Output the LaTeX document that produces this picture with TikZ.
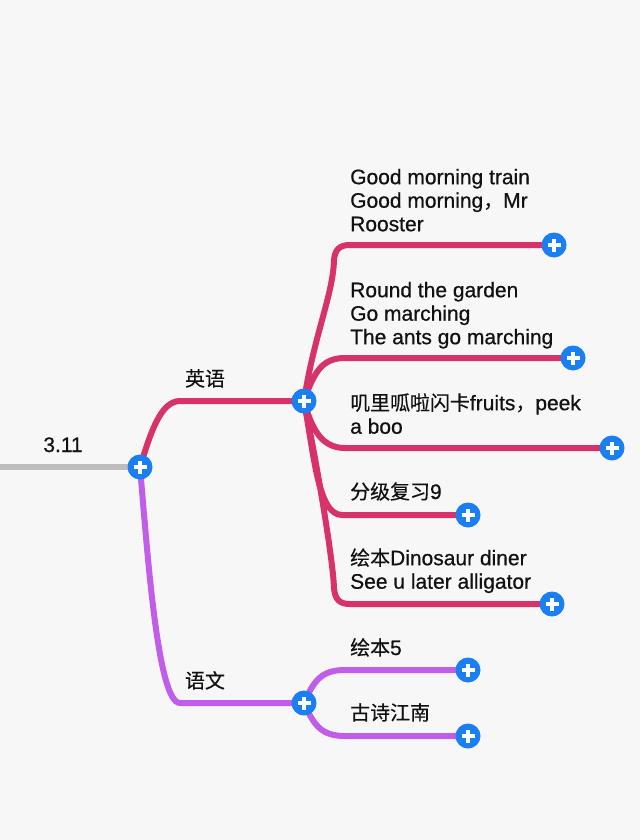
\documentclass[tikz,border=0pt]{standalone}
\usepackage{fontspec}
\setmainfont{Liberation Sans}[FakeBold=0.6]
\newfontfamily\cjk{Noto Sans CJK SC}[Scale=0.95,FakeBold=0.4]
\usetikzlibrary{calc}
\definecolor{bgc}{HTML}{F7F7F7}
\definecolor{redb}{HTML}{D8326B}
\definecolor{purb}{HTML}{C05EE9}
\definecolor{grayb}{HTML}{BDBDBD}
\definecolor{blueb}{HTML}{1A7FF3}
\definecolor{txt}{HTML}{111111}
\pgfdeclarelayer{bg}
\pgfsetlayers{bg,main}
\begin{document}
\begin{tikzpicture}[x=1pt,y=-1pt,
  plusbtn/.style={circle,fill=blueb,minimum size=25pt,inner sep=0pt,
    path picture={
      \fill[white] ([shift={(-6.5pt,-1.7pt)}]path picture bounding box.center) rectangle ([shift={(6.5pt,1.7pt)}]path picture bounding box.center);
      \fill[white] ([shift={(-1.7pt,-6.5pt)}]path picture bounding box.center) rectangle ([shift={(1.7pt,6.5pt)}]path picture bounding box.center);
    }},
  edgeline/.style={line width=6pt,line cap=round},
  lbl/.style={inner sep=0pt,text=txt,font=\fontsize{21}{23.5}\selectfont,align=left}]
\useasboundingbox (0,0) rectangle (640,840);
\begin{pgfonlayer}{bg}
\fill[bgc] (0,0) rectangle (640,840);
\end{pgfonlayer}
% plus buttons
\node[plusbtn] (r) at (140,467) {};
\node[plusbtn] (en) at (304,401) {};
\node[plusbtn] (cn) at (304,703) {};
\node[plusbtn] (c1) at (554,245) {};
\node[plusbtn] (c2) at (573,358) {};
\node[plusbtn] (c3) at (612,448) {};
\node[plusbtn] (c4) at (468,515) {};
\node[plusbtn] (c5) at (552,604) {};
\node[plusbtn] (d1) at (468,670) {};
\node[plusbtn] (d2) at (468,736) {};
\coordinate (s) at (0,467);
% connectors
\begin{pgfonlayer}{bg}
\draw[edgeline,grayb,line cap=butt] (s) -- (r.center);
\draw[edgeline,redb] (r.center) .. controls (150,435) and (160,401) .. (180,401) -- (en.center);
\draw[edgeline,purb] (r.center) .. controls (148,560) and (158,703) .. (180,703) -- (cn.center);
\draw[edgeline,redb] (en.center) .. controls (314,335) and (333,295) .. (334,260) .. controls (335,249) and (340,245) .. (350,245) -- (c1.center);
\draw[edgeline,redb] (en.center) .. controls (314,372) and (322,358) .. (345,358) -- (c2.center);
\draw[edgeline,redb] (en.center) .. controls (312,430) and (322,448) .. (345,448) -- (c3.center);
\draw[edgeline,redb] (en.center) .. controls (314,455) and (318,515) .. (342,515) -- (c4.center);
\draw[edgeline,redb] (en.center) .. controls (318,470) and (333,560) .. (334,588) .. controls (335,600) and (340,604) .. (350,604) -- (c5.center);
\draw[edgeline,purb] (cn.center) .. controls (314,680) and (322,670) .. (345,670) -- (d1.center);
\draw[edgeline,purb] (cn.center) .. controls (314,726) and (322,736) .. (345,736) -- (d2.center);
\end{pgfonlayer}
% labels
\node[lbl,anchor=base] (t0) at (63,452) {3.11};
\node[lbl,anchor=base] (ten) at (205,386) {\cjk 英语};
\node[lbl,anchor=base] (tcn) at (205,688) {\cjk 语文};
\node[lbl,anchor=north west] (t1) at (350,166) {\rule{0pt}{18pt}Good morning train\\Good morning{\cjk ，}Mr\\Rooster};
\node[lbl,anchor=north west] (t2) at (350,279) {\rule{0pt}{18pt}Round the garden\\Go marching\\The ants go marching};
\node[lbl,anchor=north west] (t3) at (350,392) {\rule{0pt}{18pt}{\cjk 叽里呱啦闪卡}fruits{\cjk ，}peek\\a boo};
\node[lbl,anchor=base west] (t4) at (350,499) {{\cjk 分级复习}9};
\node[lbl,anchor=north west] (t5) at (350,547) {\rule{0pt}{18pt}{\cjk 绘本}Dinosaur diner\\See u later alligator};
\node[lbl,anchor=base west] (t6) at (350,655) {{\cjk 绘本}5};
\node[lbl,anchor=base west] (t7) at (350,720) {{\cjk 古诗江南}};
\end{tikzpicture}
\end{document}
